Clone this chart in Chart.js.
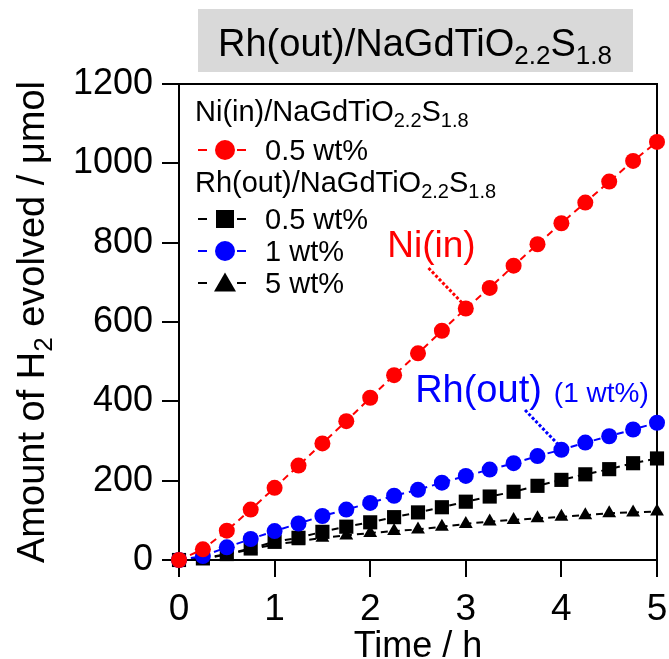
<!DOCTYPE html>
<html>
<head>
<meta charset="utf-8">
<title>H2 evolution</title>
<script src="https://cdn.jsdelivr.net/npm/chart.js@4.4.1/dist/chart.umd.min.js"></script>
<style>
  html, body { margin: 0; padding: 0; background: #fff; }
  #wrap { width: 669px; height: 659px; }
</style>
</head>
<body>
<div id="wrap"><canvas id="h2Chart" width="669" height="659"></canvas></div>
<script>
// irradiation time (h)
const hours = [0, 0.25, 0.5, 0.75, 1, 1.25, 1.5, 1.75, 2, 2.25, 2.5,
               2.75, 3, 3.25, 3.5, 3.75, 4, 4.25, 4.5, 4.75, 5];

// H2 evolved (umol)
const niIn05  = [0, 27, 74, 127, 182, 238, 294, 350, 409, 466, 521,
                 578, 634, 686, 742, 796, 849, 901, 954, 1006, 1054];
const rhOut05 = [0, 4, 15, 29, 46, 56, 71, 84, 95, 108, 120,
                 133, 147, 160, 172, 187, 202, 216, 229, 244, 256];
const rhOut1  = [0, 10, 32, 53, 73, 92, 111, 127, 144, 162, 177,
                 195, 212, 228, 244, 262, 278, 296, 312, 329, 346];
const rhOut5  = [0, 3, 14, 27, 39, 47, 56, 62, 68, 73, 77,
                 84, 91, 97, 101, 105, 109, 113, 118, 120, 122];

const xTicks = [0, 1, 2, 3, 4, 5];
const yTicks = [0, 200, 400, 600, 800, 1000, 1200];

const FONT = '"Liberation Sans", Arial, sans-serif';

function pts(ys) {
    return hours.map((h, i) => ({ x: h, y: ys[i] }));
}

// text with chemical subscripts: parts = [[text, isSub], ...]
function richWidth(ctx, parts, size) {
    let w = 0;
    parts.forEach(([t, sub]) => {
        ctx.font = (sub ? Math.round(size * 0.68) : size) + 'px ' + FONT;
        w += ctx.measureText(t).width;
    });
    return w;
}

function drawRich(ctx, parts, x, y, size, align) {
    if (align === 'center') x -= richWidth(ctx, parts, size) / 2;
    ctx.textAlign = 'left';
    ctx.textBaseline = 'alphabetic';
    parts.forEach(([t, sub]) => {
        ctx.font = (sub ? Math.round(size * 0.68) : size) + 'px ' + FONT;
        ctx.fillText(t, x, sub ? y + size * 0.2 : y);
        x += ctx.measureText(t).width;
    });
}

const formula = [['NaGdTiO', false], ['2.2', true], ['S', false], ['1.8', true]];

function drawMarker(ctx, style, x, y, r, color) {
    ctx.fillStyle = color;
    ctx.beginPath();
    if (style === 'circle') {
        ctx.arc(x, y, r, 0, Math.PI * 2);
    } else if (style === 'rect') {
        ctx.rect(x - r, y - r, r * 2, r * 2);
    } else {
        ctx.moveTo(x, y - r * 1.05);
        ctx.lineTo(x + r * 1.1, y + r * 0.85);
        ctx.lineTo(x - r * 1.1, y + r * 0.85);
        ctx.closePath();
    }
    ctx.fill();
}

function leader(ctx, x0, y0, x1, y1, color) {
    ctx.save();
    ctx.strokeStyle = color;
    ctx.lineWidth = 3;
    ctx.setLineDash([3, 2]);
    ctx.beginPath();
    ctx.moveTo(x0, y0);
    ctx.lineTo(x1, y1);
    ctx.stroke();
    ctx.restore();
}

const framePlugin = {
    id: 'frame',
    beforeDatasetsDraw(chart) {
        const { ctx, chartArea: a } = chart;
        ctx.save();
        ctx.strokeStyle = '#000';
        ctx.lineWidth = 2;
        ctx.strokeRect(a.left, a.top, a.right - a.left, a.bottom - a.top);
        ctx.restore();
    }
};

const decorPlugin = {
    id: 'decor',
    afterDraw(chart) {
        const { ctx, chartArea: a, scales } = chart;
        const sx = scales.x, sy = scales.y;
        ctx.save();

        // header box
        ctx.fillStyle = '#d9d9d9';
        ctx.fillRect(198, 9, 435, 63);
        ctx.fillStyle = '#000';
        drawRich(ctx, [['Rh(out)/', false]].concat(formula), 415, 56, 38, 'center');

        // axis titles
        ctx.save();
        ctx.translate(44, (a.top + a.bottom) / 2);
        ctx.rotate(-Math.PI / 2);
        drawRich(ctx, [['Amount of H', false], ['2', true], [' evolved / \u03bcmol', false]], 0, 0, 38, 'center');
        ctx.restore();
        ctx.fillStyle = '#000';
        ctx.font = '36px ' + FONT;
        ctx.textAlign = 'center';
        ctx.textBaseline = 'alphabetic';
        ctx.fillText('Time / h', (a.left + a.right) / 2, 657);

        // legend
        const lx = 225;
        drawRich(ctx, [['Ni(in)/', false]].concat(formula), 195, 121, 29, 'left');
        drawRich(ctx, [['Rh(out)/', false]].concat(formula), 195, 192, 29, 'left');
        const rows = [
            { ds: 0, y: 150 },
            { ds: 2, y: 219 },
            { ds: 1, y: 251 },
            { ds: 3, y: 283 }
        ];
        rows.forEach(r => {
            const d = chart.data.datasets[r.ds];
            ctx.strokeStyle = d.borderColor;
            ctx.lineWidth = 2;
            ctx.beginPath();
            ctx.moveTo(lx - 27, r.y); ctx.lineTo(lx - 18, r.y);
            ctx.moveTo(lx + 12, r.y); ctx.lineTo(lx + 21, r.y);
            ctx.stroke();
            drawMarker(ctx, d.pointStyle, lx, r.y, d.pointStyle === 'rect' ? 9 : 10, d.backgroundColor);
            ctx.fillStyle = '#000';
            ctx.font = '29px ' + FONT;
            ctx.textAlign = 'left';
            ctx.textBaseline = 'alphabetic';
            ctx.fillText(d.label, 265, r.y + 10);
        });

        // Ni(in) callout, pointing at the 3 h point
        ctx.fillStyle = '#ff0000';
        ctx.font = '37px ' + FONT;
        ctx.textAlign = 'center';
        ctx.fillText('Ni(in)', sx.getPixelForValue(2.64), sy.getPixelForValue(764));
        let px = sx.getPixelForValue(3), py = sy.getPixelForValue(niIn05[hours.indexOf(3)]);
        leader(ctx, sx.getPixelForValue(2.61), sy.getPixelForValue(736), px - 4, py - 6, '#ff0000');

        // Rh(out) callout, pointing at the 4 h point of 1 wt%
        ctx.fillStyle = '#0000ff';
        ctx.textAlign = 'left';
        ctx.font = '38px ' + FONT;
        const rx = sx.getPixelForValue(2.47), ry = sy.getPixelForValue(398);
        ctx.fillText('Rh(out)', rx, ry);
        const rw = ctx.measureText('Rh(out)').width;
        ctx.font = '28px ' + FONT;
        ctx.fillText('(1 wt%)', rx + rw + 12, ry);
        px = sx.getPixelForValue(4); py = sy.getPixelForValue(rhOut1[hours.indexOf(4)]);
        leader(ctx, sx.getPixelForValue(3.62), sy.getPixelForValue(378), px - 4, py - 6, '#0000ff');

        ctx.restore();
    }
};

const ctx = document.getElementById('h2Chart').getContext('2d');
new Chart(ctx, {
    type: 'line',
    data: {
        datasets: [
            {
                label: '0.5 wt%', data: pts(niIn05),
                borderColor: '#ff0000', backgroundColor: '#ff0000',
                pointStyle: 'circle', pointRadius: 8
            },
            {
                label: '1 wt%', data: pts(rhOut1),
                borderColor: '#0000ff', backgroundColor: '#0000ff',
                pointStyle: 'circle', pointRadius: 8
            },
            {
                label: '0.5 wt%', data: pts(rhOut05),
                borderColor: '#000', backgroundColor: '#000',
                pointStyle: 'rect', pointRadius: 10
            },
            {
                label: '5 wt%', data: pts(rhOut5),
                borderColor: '#000', backgroundColor: '#000',
                pointStyle: 'triangle', pointRadius: 8
            }
        ]
    },
    options: {
        responsive: false,
        animation: false,
        devicePixelRatio: 1,
        clip: false,
        layout: { padding: { top: 84, right: 12, left: 0, bottom: 0 } },
        elements: {
            line: { borderWidth: 2, borderDash: [7, 5], tension: 0, fill: false },
            point: { borderWidth: 0, hoverRadius: 8 }
        },
        plugins: {
            legend: { display: false },
            tooltip: { enabled: false },
            title: { display: false }
        },
        scales: {
            x: {
                type: 'linear',
                min: 0, max: 5,
                afterFit: s => { s.height = 99; s.paddingLeft = 0; s.paddingRight = 0; },
                afterBuildTicks: s => { s.ticks = xTicks.map(v => ({ value: v })); },
                border: { display: false },
                grid: { drawOnChartArea: false, drawTicks: true, tickLength: 17, color: '#000', lineWidth: 2 },
                ticks: { color: '#000', padding: 11, font: { family: FONT, size: 37 }, callback: v => String(v) }
            },
            y: {
                min: 0, max: 1200,
                afterFit: s => { s.width = 179; s.paddingTop = 0; s.paddingBottom = 0; },
                afterBuildTicks: s => { s.ticks = yTicks.map(v => ({ value: v })); },
                border: { display: false },
                grid: { drawOnChartArea: false, drawTicks: true, tickLength: 17, color: '#000', lineWidth: 2 },
                ticks: { color: '#000', padding: 9, font: { family: FONT, size: 36 }, callback: v => String(v) }
            }
        }
    },
    plugins: [framePlugin, decorPlugin]
});
</script>
</body>
</html>
